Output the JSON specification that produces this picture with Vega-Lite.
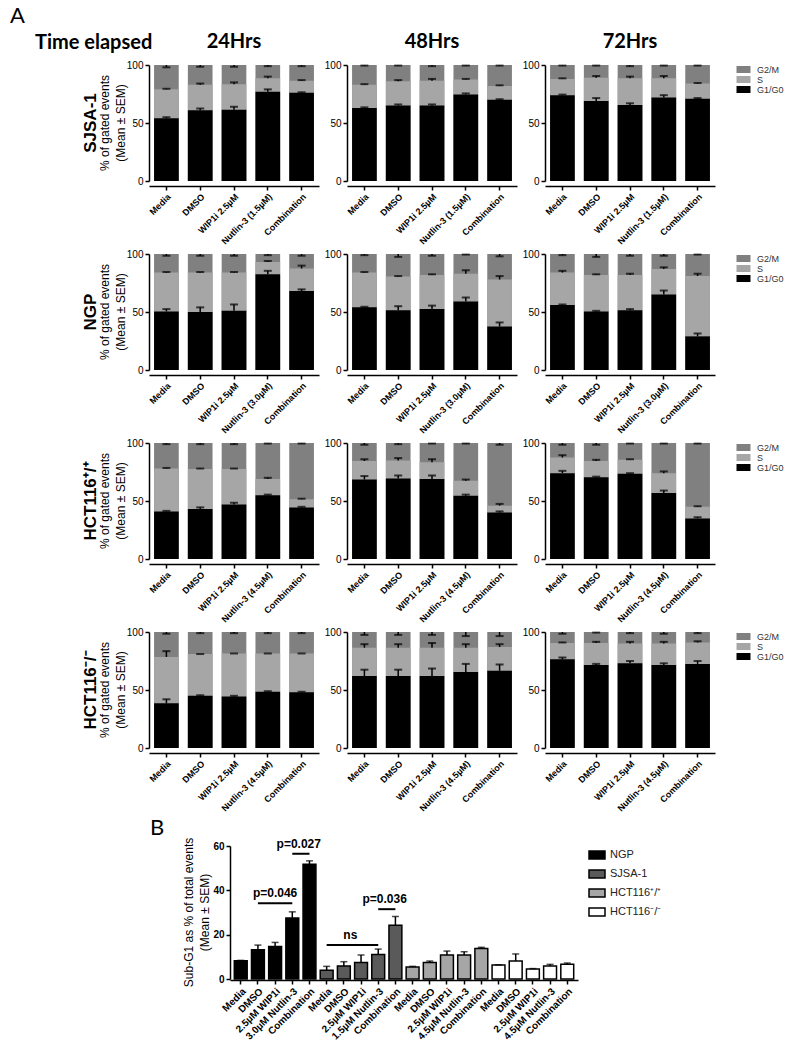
{
"$schema": "https://vega.github.io/schema/vega-lite/v6.json",
"padding": {"left": 10, "top": 5, "right": 5, "bottom": 5},
"title": {"text": "A", "anchor": "start", "fontSize": 22, "font": "Lato", "fontWeight": "normal", "color": "black", "dx": -25},
"datasets": {
"a": [
{"c":"SJSA-1","t":"24Hrs","x":"Media","p":"G2/M","m":100,"e":98},
{"c":"SJSA-1","t":"24Hrs","x":"DMSO","p":"G2/M","m":100,"e":98.5},
{"c":"SJSA-1","t":"24Hrs","x":"WIP1i 2.5µM","p":"G2/M","m":100,"e":98.5},
{"c":"SJSA-1","t":"24Hrs","x":"Nutlin-3 (1.5µM)","p":"G2/M","m":100,"e":99},
{"c":"SJSA-1","t":"24Hrs","x":"Combination","p":"G2/M","m":100,"e":99},
{"c":"SJSA-1","t":"24Hrs","x":"Media","p":"S","m":79,"e":79.5},
{"c":"SJSA-1","t":"24Hrs","x":"DMSO","p":"S","m":83,"e":84},
{"c":"SJSA-1","t":"24Hrs","x":"WIP1i 2.5µM","p":"S","m":83.5,"e":85},
{"c":"SJSA-1","t":"24Hrs","x":"Nutlin-3 (1.5µM)","p":"S","m":88.5,"e":90},
{"c":"SJSA-1","t":"24Hrs","x":"Combination","p":"S","m":86.5,"e":87},
{"c":"SJSA-1","t":"24Hrs","x":"Media","p":"G1/G0","m":54,"e":55},
{"c":"SJSA-1","t":"24Hrs","x":"DMSO","p":"G1/G0","m":61,"e":62.5},
{"c":"SJSA-1","t":"24Hrs","x":"WIP1i 2.5µM","p":"G1/G0","m":61.5,"e":64},
{"c":"SJSA-1","t":"24Hrs","x":"Nutlin-3 (1.5µM)","p":"G1/G0","m":77,"e":79},
{"c":"SJSA-1","t":"24Hrs","x":"Combination","p":"G1/G0","m":76,"e":76.5},
{"c":"SJSA-1","t":"48Hrs","x":"Media","p":"G2/M","m":100,"e":99.5},
{"c":"SJSA-1","t":"48Hrs","x":"DMSO","p":"G2/M","m":100,"e":99.5},
{"c":"SJSA-1","t":"48Hrs","x":"WIP1i 2.5µM","p":"G2/M","m":100,"e":99},
{"c":"SJSA-1","t":"48Hrs","x":"Nutlin-3 (1.5µM)","p":"G2/M","m":100,"e":99.5},
{"c":"SJSA-1","t":"48Hrs","x":"Combination","p":"G2/M","m":100,"e":99.5},
{"c":"SJSA-1","t":"48Hrs","x":"Media","p":"S","m":83,"e":83.5},
{"c":"SJSA-1","t":"48Hrs","x":"DMSO","p":"S","m":86,"e":87},
{"c":"SJSA-1","t":"48Hrs","x":"WIP1i 2.5µM","p":"S","m":86.5,"e":88},
{"c":"SJSA-1","t":"48Hrs","x":"Nutlin-3 (1.5µM)","p":"S","m":87.5,"e":88},
{"c":"SJSA-1","t":"48Hrs","x":"Combination","p":"S","m":82,"e":82.5},
{"c":"SJSA-1","t":"48Hrs","x":"Media","p":"G1/G0","m":63,"e":63.5},
{"c":"SJSA-1","t":"48Hrs","x":"DMSO","p":"G1/G0","m":65,"e":66},
{"c":"SJSA-1","t":"48Hrs","x":"WIP1i 2.5µM","p":"G1/G0","m":65,"e":66},
{"c":"SJSA-1","t":"48Hrs","x":"Nutlin-3 (1.5µM)","p":"G1/G0","m":74.5,"e":75.5},
{"c":"SJSA-1","t":"48Hrs","x":"Combination","p":"G1/G0","m":70,"e":70.5},
{"c":"SJSA-1","t":"72Hrs","x":"Media","p":"G2/M","m":100,"e":99.5},
{"c":"SJSA-1","t":"72Hrs","x":"DMSO","p":"G2/M","m":100,"e":99.5},
{"c":"SJSA-1","t":"72Hrs","x":"WIP1i 2.5µM","p":"G2/M","m":100,"e":99},
{"c":"SJSA-1","t":"72Hrs","x":"Nutlin-3 (1.5µM)","p":"G2/M","m":100,"e":99.5},
{"c":"SJSA-1","t":"72Hrs","x":"Combination","p":"G2/M","m":100,"e":99.5},
{"c":"SJSA-1","t":"72Hrs","x":"Media","p":"S","m":88,"e":88.5},
{"c":"SJSA-1","t":"72Hrs","x":"DMSO","p":"S","m":89,"e":90.5},
{"c":"SJSA-1","t":"72Hrs","x":"WIP1i 2.5µM","p":"S","m":88.5,"e":90},
{"c":"SJSA-1","t":"72Hrs","x":"Nutlin-3 (1.5µM)","p":"S","m":88.5,"e":90.5},
{"c":"SJSA-1","t":"72Hrs","x":"Combination","p":"S","m":84,"e":84.5},
{"c":"SJSA-1","t":"72Hrs","x":"Media","p":"G1/G0","m":74,"e":74.5},
{"c":"SJSA-1","t":"72Hrs","x":"DMSO","p":"G1/G0","m":69,"e":71.5},
{"c":"SJSA-1","t":"72Hrs","x":"WIP1i 2.5µM","p":"G1/G0","m":65.5,"e":67},
{"c":"SJSA-1","t":"72Hrs","x":"Nutlin-3 (1.5µM)","p":"G1/G0","m":72,"e":74},
{"c":"SJSA-1","t":"72Hrs","x":"Combination","p":"G1/G0","m":71,"e":71.5},
{"c":"NGP","t":"24Hrs","x":"Media","p":"G2/M","m":100,"e":98.5},
{"c":"NGP","t":"24Hrs","x":"DMSO","p":"G2/M","m":100,"e":98.5},
{"c":"NGP","t":"24Hrs","x":"WIP1i 2.5µM","p":"G2/M","m":100,"e":98.5},
{"c":"NGP","t":"24Hrs","x":"Nutlin-3 (3.0µM)","p":"G2/M","m":100,"e":99},
{"c":"NGP","t":"24Hrs","x":"Combination","p":"G2/M","m":100,"e":98.5},
{"c":"NGP","t":"24Hrs","x":"Media","p":"S","m":84,"e":84.5},
{"c":"NGP","t":"24Hrs","x":"DMSO","p":"S","m":84,"e":84.5},
{"c":"NGP","t":"24Hrs","x":"WIP1i 2.5µM","p":"S","m":84,"e":84.5},
{"c":"NGP","t":"24Hrs","x":"Nutlin-3 (3.0µM)","p":"S","m":93,"e":94},
{"c":"NGP","t":"24Hrs","x":"Combination","p":"S","m":87.5,"e":90},
{"c":"NGP","t":"24Hrs","x":"Media","p":"G1/G0","m":50.5,"e":52.5},
{"c":"NGP","t":"24Hrs","x":"DMSO","p":"G1/G0","m":50,"e":54},
{"c":"NGP","t":"24Hrs","x":"WIP1i 2.5µM","p":"G1/G0","m":51,"e":56.5},
{"c":"NGP","t":"24Hrs","x":"Nutlin-3 (3.0µM)","p":"G1/G0","m":82.5,"e":85.5},
{"c":"NGP","t":"24Hrs","x":"Combination","p":"G1/G0","m":68,"e":69.5},
{"c":"NGP","t":"48Hrs","x":"Media","p":"G2/M","m":100,"e":99},
{"c":"NGP","t":"48Hrs","x":"DMSO","p":"G2/M","m":100,"e":97.5},
{"c":"NGP","t":"48Hrs","x":"WIP1i 2.5µM","p":"G2/M","m":100,"e":98.5},
{"c":"NGP","t":"48Hrs","x":"Nutlin-3 (3.0µM)","p":"G2/M","m":100,"e":99.5},
{"c":"NGP","t":"48Hrs","x":"Combination","p":"G2/M","m":100,"e":98},
{"c":"NGP","t":"48Hrs","x":"Media","p":"S","m":84,"e":84.5},
{"c":"NGP","t":"48Hrs","x":"DMSO","p":"S","m":80.5,"e":81},
{"c":"NGP","t":"48Hrs","x":"WIP1i 2.5µM","p":"S","m":82,"e":82.5},
{"c":"NGP","t":"48Hrs","x":"Nutlin-3 (3.0µM)","p":"S","m":83,"e":86},
{"c":"NGP","t":"48Hrs","x":"Combination","p":"S","m":78,"e":81},
{"c":"NGP","t":"48Hrs","x":"Media","p":"G1/G0","m":54,"e":54.5},
{"c":"NGP","t":"48Hrs","x":"DMSO","p":"G1/G0","m":51.5,"e":55},
{"c":"NGP","t":"48Hrs","x":"WIP1i 2.5µM","p":"G1/G0","m":52.5,"e":55.5},
{"c":"NGP","t":"48Hrs","x":"Nutlin-3 (3.0µM)","p":"G1/G0","m":59,"e":62.5},
{"c":"NGP","t":"48Hrs","x":"Combination","p":"G1/G0","m":37.5,"e":41},
{"c":"NGP","t":"72Hrs","x":"Media","p":"G2/M","m":100,"e":99},
{"c":"NGP","t":"72Hrs","x":"DMSO","p":"G2/M","m":100,"e":97.5},
{"c":"NGP","t":"72Hrs","x":"WIP1i 2.5µM","p":"G2/M","m":100,"e":98.5},
{"c":"NGP","t":"72Hrs","x":"Nutlin-3 (3.0µM)","p":"G2/M","m":100,"e":98.5},
{"c":"NGP","t":"72Hrs","x":"Combination","p":"G2/M","m":100,"e":99.5},
{"c":"NGP","t":"72Hrs","x":"Media","p":"S","m":84,"e":85.5},
{"c":"NGP","t":"72Hrs","x":"DMSO","p":"S","m":82,"e":82.5},
{"c":"NGP","t":"72Hrs","x":"WIP1i 2.5µM","p":"S","m":82,"e":83},
{"c":"NGP","t":"72Hrs","x":"Nutlin-3 (3.0µM)","p":"S","m":87,"e":88.5},
{"c":"NGP","t":"72Hrs","x":"Combination","p":"S","m":81,"e":83},
{"c":"NGP","t":"72Hrs","x":"Media","p":"G1/G0","m":56,"e":56.5},
{"c":"NGP","t":"72Hrs","x":"DMSO","p":"G1/G0","m":50.5,"e":51},
{"c":"NGP","t":"72Hrs","x":"WIP1i 2.5µM","p":"G1/G0","m":51.5,"e":52.5},
{"c":"NGP","t":"72Hrs","x":"Nutlin-3 (3.0µM)","p":"G1/G0","m":65,"e":68.5},
{"c":"NGP","t":"72Hrs","x":"Combination","p":"G1/G0","m":29,"e":31.5},
{"c":"HCT+","t":"24Hrs","x":"Media","p":"G2/M","m":100,"e":99},
{"c":"HCT+","t":"24Hrs","x":"DMSO","p":"G2/M","m":100,"e":99},
{"c":"HCT+","t":"24Hrs","x":"WIP1i 2.5µM","p":"G2/M","m":100,"e":99},
{"c":"HCT+","t":"24Hrs","x":"Nutlin-3 (4.5µM)","p":"G2/M","m":100,"e":99.5},
{"c":"HCT+","t":"24Hrs","x":"Combination","p":"G2/M","m":100,"e":99.5},
{"c":"HCT+","t":"24Hrs","x":"Media","p":"S","m":78,"e":78.5},
{"c":"HCT+","t":"24Hrs","x":"DMSO","p":"S","m":77.5,"e":78},
{"c":"HCT+","t":"24Hrs","x":"WIP1i 2.5µM","p":"S","m":77.5,"e":78},
{"c":"HCT+","t":"24Hrs","x":"Nutlin-3 (4.5µM)","p":"S","m":69,"e":70},
{"c":"HCT+","t":"24Hrs","x":"Combination","p":"S","m":51.5,"e":52},
{"c":"HCT+","t":"24Hrs","x":"Media","p":"G1/G0","m":41,"e":41.5},
{"c":"HCT+","t":"24Hrs","x":"DMSO","p":"G1/G0","m":43,"e":44.5},
{"c":"HCT+","t":"24Hrs","x":"WIP1i 2.5µM","p":"G1/G0","m":47,"e":48.5},
{"c":"HCT+","t":"24Hrs","x":"Nutlin-3 (4.5µM)","p":"G1/G0","m":55,"e":55.5},
{"c":"HCT+","t":"24Hrs","x":"Combination","p":"G1/G0","m":44.5,"e":45},
{"c":"HCT+","t":"48Hrs","x":"Media","p":"G2/M","m":100,"e":98.5},
{"c":"HCT+","t":"48Hrs","x":"DMSO","p":"G2/M","m":100,"e":99},
{"c":"HCT+","t":"48Hrs","x":"WIP1i 2.5µM","p":"G2/M","m":100,"e":99.5},
{"c":"HCT+","t":"48Hrs","x":"Nutlin-3 (4.5µM)","p":"G2/M","m":100,"e":99.5},
{"c":"HCT+","t":"48Hrs","x":"Combination","p":"G2/M","m":100,"e":98.5},
{"c":"HCT+","t":"48Hrs","x":"Media","p":"S","m":84.5,"e":86},
{"c":"HCT+","t":"48Hrs","x":"DMSO","p":"S","m":85,"e":87},
{"c":"HCT+","t":"48Hrs","x":"WIP1i 2.5µM","p":"S","m":83.5,"e":86},
{"c":"HCT+","t":"48Hrs","x":"Nutlin-3 (4.5µM)","p":"S","m":67.5,"e":68.5},
{"c":"HCT+","t":"48Hrs","x":"Combination","p":"S","m":46,"e":47.5},
{"c":"HCT+","t":"48Hrs","x":"Media","p":"G1/G0","m":68.5,"e":71.5},
{"c":"HCT+","t":"48Hrs","x":"DMSO","p":"G1/G0","m":69.5,"e":72},
{"c":"HCT+","t":"48Hrs","x":"WIP1i 2.5µM","p":"G1/G0","m":69,"e":72},
{"c":"HCT+","t":"48Hrs","x":"Nutlin-3 (4.5µM)","p":"G1/G0","m":54.5,"e":55.5},
{"c":"HCT+","t":"48Hrs","x":"Combination","p":"G1/G0","m":40,"e":41},
{"c":"HCT+","t":"72Hrs","x":"Media","p":"G2/M","m":100,"e":98.5},
{"c":"HCT+","t":"72Hrs","x":"DMSO","p":"G2/M","m":100,"e":98.5},
{"c":"HCT+","t":"72Hrs","x":"WIP1i 2.5µM","p":"G2/M","m":100,"e":99.5},
{"c":"HCT+","t":"72Hrs","x":"Nutlin-3 (4.5µM)","p":"G2/M","m":100,"e":99.5},
{"c":"HCT+","t":"72Hrs","x":"Combination","p":"G2/M","m":100,"e":99.5},
{"c":"HCT+","t":"72Hrs","x":"Media","p":"S","m":87.5,"e":89.5},
{"c":"HCT+","t":"72Hrs","x":"DMSO","p":"S","m":84.5,"e":85.5},
{"c":"HCT+","t":"72Hrs","x":"WIP1i 2.5µM","p":"S","m":85.5,"e":86},
{"c":"HCT+","t":"72Hrs","x":"Nutlin-3 (4.5µM)","p":"S","m":74,"e":75.5},
{"c":"HCT+","t":"72Hrs","x":"Combination","p":"S","m":45,"e":45.5},
{"c":"HCT+","t":"72Hrs","x":"Media","p":"G1/G0","m":74,"e":76},
{"c":"HCT+","t":"72Hrs","x":"DMSO","p":"G1/G0","m":70.5,"e":71},
{"c":"HCT+","t":"72Hrs","x":"WIP1i 2.5µM","p":"G1/G0","m":73.5,"e":74},
{"c":"HCT+","t":"72Hrs","x":"Nutlin-3 (4.5µM)","p":"G1/G0","m":57,"e":59},
{"c":"HCT+","t":"72Hrs","x":"Combination","p":"G1/G0","m":35,"e":36},
{"c":"HCT-","t":"24Hrs","x":"Media","p":"G2/M","m":100,"e":98.5},
{"c":"HCT-","t":"24Hrs","x":"DMSO","p":"G2/M","m":100,"e":99},
{"c":"HCT-","t":"24Hrs","x":"WIP1i 2.5µM","p":"G2/M","m":100,"e":99},
{"c":"HCT-","t":"24Hrs","x":"Nutlin-3 (4.5µM)","p":"G2/M","m":100,"e":99},
{"c":"HCT-","t":"24Hrs","x":"Combination","p":"G2/M","m":100,"e":99},
{"c":"HCT-","t":"24Hrs","x":"Media","p":"S","m":78.5,"e":83.5},
{"c":"HCT-","t":"24Hrs","x":"DMSO","p":"S","m":81,"e":81},
{"c":"HCT-","t":"24Hrs","x":"WIP1i 2.5µM","p":"S","m":81.5,"e":81.5},
{"c":"HCT-","t":"24Hrs","x":"Nutlin-3 (4.5µM)","p":"S","m":81.5,"e":81.5},
{"c":"HCT-","t":"24Hrs","x":"Combination","p":"S","m":81.5,"e":81.5},
{"c":"HCT-","t":"24Hrs","x":"Media","p":"G1/G0","m":38.5,"e":42},
{"c":"HCT-","t":"24Hrs","x":"DMSO","p":"G1/G0","m":45,"e":45.5},
{"c":"HCT-","t":"24Hrs","x":"WIP1i 2.5µM","p":"G1/G0","m":44.5,"e":45},
{"c":"HCT-","t":"24Hrs","x":"Nutlin-3 (4.5µM)","p":"G1/G0","m":48.5,"e":49},
{"c":"HCT-","t":"24Hrs","x":"Combination","p":"G1/G0","m":48,"e":48.5},
{"c":"HCT-","t":"48Hrs","x":"Media","p":"G2/M","m":100,"e":97.5},
{"c":"HCT-","t":"48Hrs","x":"DMSO","p":"G2/M","m":100,"e":97.5},
{"c":"HCT-","t":"48Hrs","x":"WIP1i 2.5µM","p":"G2/M","m":100,"e":97.5},
{"c":"HCT-","t":"48Hrs","x":"Nutlin-3 (4.5µM)","p":"G2/M","m":100,"e":96.5},
{"c":"HCT-","t":"48Hrs","x":"Combination","p":"G2/M","m":100,"e":96.5},
{"c":"HCT-","t":"48Hrs","x":"Media","p":"S","m":86.5,"e":89.5},
{"c":"HCT-","t":"48Hrs","x":"DMSO","p":"S","m":86.5,"e":89.5},
{"c":"HCT-","t":"48Hrs","x":"WIP1i 2.5µM","p":"S","m":86.5,"e":90.5},
{"c":"HCT-","t":"48Hrs","x":"Nutlin-3 (4.5µM)","p":"S","m":86.5,"e":89.5},
{"c":"HCT-","t":"48Hrs","x":"Combination","p":"S","m":87,"e":89.5},
{"c":"HCT-","t":"48Hrs","x":"Media","p":"G1/G0","m":62,"e":67.5},
{"c":"HCT-","t":"48Hrs","x":"DMSO","p":"G1/G0","m":62,"e":67.5},
{"c":"HCT-","t":"48Hrs","x":"WIP1i 2.5µM","p":"G1/G0","m":62,"e":68.5},
{"c":"HCT-","t":"48Hrs","x":"Nutlin-3 (4.5µM)","p":"G1/G0","m":65.5,"e":72.5},
{"c":"HCT-","t":"48Hrs","x":"Combination","p":"G1/G0","m":66.5,"e":72},
{"c":"HCT-","t":"72Hrs","x":"Media","p":"G2/M","m":100,"e":98.5},
{"c":"HCT-","t":"72Hrs","x":"DMSO","p":"G2/M","m":100,"e":99.5},
{"c":"HCT-","t":"72Hrs","x":"WIP1i 2.5µM","p":"G2/M","m":100,"e":99},
{"c":"HCT-","t":"72Hrs","x":"Nutlin-3 (4.5µM)","p":"G2/M","m":100,"e":98.5},
{"c":"HCT-","t":"72Hrs","x":"Combination","p":"G2/M","m":100,"e":99},
{"c":"HCT-","t":"72Hrs","x":"Media","p":"S","m":90.5,"e":91},
{"c":"HCT-","t":"72Hrs","x":"DMSO","p":"S","m":90.5,"e":91.5},
{"c":"HCT-","t":"72Hrs","x":"WIP1i 2.5µM","p":"S","m":90,"e":91.5},
{"c":"HCT-","t":"72Hrs","x":"Nutlin-3 (4.5µM)","p":"S","m":90,"e":91.5},
{"c":"HCT-","t":"72Hrs","x":"Combination","p":"S","m":91,"e":92},
{"c":"HCT-","t":"72Hrs","x":"Media","p":"G1/G0","m":76.5,"e":78},
{"c":"HCT-","t":"72Hrs","x":"DMSO","p":"G1/G0","m":71.5,"e":72.5},
{"c":"HCT-","t":"72Hrs","x":"WIP1i 2.5µM","p":"G1/G0","m":73,"e":75},
{"c":"HCT-","t":"72Hrs","x":"Nutlin-3 (4.5µM)","p":"G1/G0","m":71.5,"e":73},
{"c":"HCT-","t":"72Hrs","x":"Combination","p":"G1/G0","m":72.5,"e":75}
],
"b": [
{"s":"Sub-G1","k":"NGP|Media","c":"NGP","m":8.2,"e":8.4},
{"s":"Sub-G1","k":"NGP|DMSO","c":"NGP","m":13.2,"e":15.3},
{"s":"Sub-G1","k":"NGP|2.5µM WIP1i","c":"NGP","m":14.7,"e":16.5},
{"s":"Sub-G1","k":"NGP|3.0µM Nutlin-3","c":"NGP","m":27.5,"e":30.3},
{"s":"Sub-G1","k":"NGP|Combination","c":"NGP","m":51.8,"e":53.3},
{"s":"Sub-G1","k":"SJSA-1|Media","c":"SJSA-1","m":3.9,"e":5.7},
{"s":"Sub-G1","k":"SJSA-1|DMSO","c":"SJSA-1","m":5.9,"e":7.8},
{"s":"Sub-G1","k":"SJSA-1|2.5µM WIP1i","c":"SJSA-1","m":7.5,"e":10.8},
{"s":"Sub-G1","k":"SJSA-1|1.5µM Nutlin-3","c":"SJSA-1","m":11.1,"e":13.5},
{"s":"Sub-G1","k":"SJSA-1|Combination","c":"SJSA-1","m":24.3,"e":28.2},
{"s":"Sub-G1","k":"HCT+|Media","c":"HCT116⁺/⁺","m":5.4,"e":5.7},
{"s":"Sub-G1","k":"HCT+|DMSO","c":"HCT116⁺/⁺","m":7.4,"e":8.1},
{"s":"Sub-G1","k":"HCT+|2.5µM WIP1i","c":"HCT116⁺/⁺","m":10.8,"e":12.6},
{"s":"Sub-G1","k":"HCT+|4.5µM Nutlin-3","c":"HCT116⁺/⁺","m":10.8,"e":12.3},
{"s":"Sub-G1","k":"HCT+|Combination","c":"HCT116⁺/⁺","m":13.8,"e":14.3},
{"s":"Sub-G1","k":"HCT-|Media","c":"HCT116⁻/⁻","m":6.3,"e":6.4},
{"s":"Sub-G1","k":"HCT-|DMSO","c":"HCT116⁻/⁻","m":8.1,"e":11.3},
{"s":"Sub-G1","k":"HCT-|2.5µM WIP1i","c":"HCT116⁻/⁻","m":4.5,"e":4.7},
{"s":"Sub-G1","k":"HCT-|4.5µM Nutlin-3","c":"HCT116⁻/⁻","m":5.9,"e":6.6},
{"s":"Sub-G1","k":"HCT-|Combination","c":"HCT116⁻/⁻","m":6.6,"e":7.2},
{"s":"Sub-G1","x1":"NGP|DMSO","x2":"NGP|3.0µM Nutlin-3","y":34.2},
{"s":"Sub-G1","x1":"NGP|3.0µM Nutlin-3","x2":"NGP|Combination","y":56.5},
{"s":"Sub-G1","x1":"SJSA-1|Media","x2":"SJSA-1|1.5µM Nutlin-3","y":15.3},
{"s":"Sub-G1","x1":"SJSA-1|1.5µM Nutlin-3","x2":"SJSA-1|Combination","y":31.5},
{"s":"Sub-G1","xt":"NGP|2.5µM WIP1i","y":34.2,"label":"p=0.046"},
{"s":"Sub-G1","xt":"NGP|3.0µM Nutlin-3","y":56.5,"label":"p=0.027"},
{"s":"Sub-G1","xt":"SJSA-1|DMSO","y":15.3,"label":"ns"},
{"s":"Sub-G1","xt":"SJSA-1|1.5µM Nutlin-3","y":31.5,"label":"p=0.036"}
]
},
"vconcat": [
{
"title": {"text": "Time elapsed", "anchor": "start", "fontSize": 20, "font": "Lato", "fontWeight": "bold", "color": "black", "dx": -47, "dy": 25},
"spacing": 3,
"resolve": {"scale": {"color": "independent", "x": "independent", "y": "independent"}},
"vconcat": [
{
"data": {"name": "a"},
"transform": [{"filter": "datum.c == 'SJSA-1'"}],
"spacing": 5,
"facet": {
"row": {"field": "c", "type": "nominal", "title": "SJSA-1", "header": {"labelExpr": "['% of gated events', '(Mean ± SEM)']", "labelAngle": -90, "labelFontSize": 12, "labelColor": "black", "labelPadding": -7, "labelLineHeight": 16, "titleFontSize": 17, "titleFontWeight": "bold", "titleColor": "black", "titlePadding": -12}},
"column": {"field": "t", "type": "nominal", "title": null, "header": {"labelFontSize": 20, "labelFont": "Lato", "labelFontWeight": "bold", "labelColor": "black", "labelPadding": 8}}
},
"spec": {"width": 170, "height": 116, "layer": [
{"mark": {"type": "bar"}, "encoding": {
"x": {"field": "x", "type": "nominal", "sort": null, "title": null, "scale": {"paddingInner": 0.27, "paddingOuter": 0.15}, "axis": {"labelAngle": -45, "labelFontWeight": "bold", "labelFontSize": 9}},
"y": {"field": "m", "type": "quantitative", "stack": null, "title": null, "scale": {"domain": [0, 100]}, "axis": {"values": [0, 50, 100]}},
"color": {"field": "p", "type": "nominal", "scale": {"domain": ["G2/M", "S", "G1/G0"], "range": ["#808080", "#a6a6a6", "#000000"]}, "legend": {"title": null, "symbolType": "M-1.75,-0.875H1.75V0.875H-1.75Z", "symbolSize": 64, "symbolStrokeWidth": 0, "labelFontSize": 9, "labelColor": "#333", "rowPadding": -2, "offset": 24, "labelOffset": 9}}}},
{"mark": {"type": "rule", "color": "black", "strokeWidth": 1.5}, "encoding": {"x": {"field": "x", "type": "nominal", "sort": null}, "y": {"field": "m", "type": "quantitative"}, "y2": {"field": "e"}}},
{"mark": {"type": "tick", "color": "black", "thickness": 2, "size": 8}, "encoding": {"x": {"field": "x", "type": "nominal", "sort": null}, "y": {"field": "e", "type": "quantitative"}}}
]},
"resolve": {"axis": {"y": "independent"}}
},
{
"data": {"name": "a"},
"transform": [{"filter": "datum.c == 'NGP'"}],
"spacing": 5,
"facet": {
"row": {"field": "c", "type": "nominal", "title": "NGP", "header": {"labelExpr": "['% of gated events', '(Mean ± SEM)']", "labelAngle": -90, "labelFontSize": 12, "labelColor": "black", "labelPadding": -7, "labelLineHeight": 16, "titleFontSize": 17, "titleFontWeight": "bold", "titleColor": "black", "titlePadding": -12}},
"column": {"field": "t", "type": "nominal", "header": null}
},
"spec": {"width": 170, "height": 116, "layer": [
{"mark": {"type": "bar"}, "encoding": {
"x": {"field": "x", "type": "nominal", "sort": null, "title": null, "scale": {"paddingInner": 0.27, "paddingOuter": 0.15}, "axis": {"labelAngle": -45, "labelFontWeight": "bold", "labelFontSize": 9}},
"y": {"field": "m", "type": "quantitative", "stack": null, "title": null, "scale": {"domain": [0, 100]}, "axis": {"values": [0, 50, 100]}},
"color": {"field": "p", "type": "nominal", "scale": {"domain": ["G2/M", "S", "G1/G0"], "range": ["#808080", "#a6a6a6", "#000000"]}, "legend": {"title": null, "symbolType": "M-1.75,-0.875H1.75V0.875H-1.75Z", "symbolSize": 64, "symbolStrokeWidth": 0, "labelFontSize": 9, "labelColor": "#333", "rowPadding": -2, "offset": 24, "labelOffset": 9}}}},
{"mark": {"type": "rule", "color": "black", "strokeWidth": 1.5}, "encoding": {"x": {"field": "x", "type": "nominal", "sort": null}, "y": {"field": "m", "type": "quantitative"}, "y2": {"field": "e"}}},
{"mark": {"type": "tick", "color": "black", "thickness": 2, "size": 8}, "encoding": {"x": {"field": "x", "type": "nominal", "sort": null}, "y": {"field": "e", "type": "quantitative"}}}
]},
"resolve": {"axis": {"y": "independent"}}
},
{
"data": {"name": "a"},
"transform": [{"filter": "datum.c == 'HCT+'"}],
"spacing": 5,
"facet": {
"row": {"field": "c", "type": "nominal", "title": "HCT116⁺/⁺", "header": {"labelExpr": "['% of gated events', '(Mean ± SEM)']", "labelAngle": -90, "labelFontSize": 12, "labelColor": "black", "labelPadding": -7, "labelLineHeight": 16, "titleFontSize": 17, "titleFontWeight": "bold", "titleColor": "black", "titlePadding": -12}},
"column": {"field": "t", "type": "nominal", "header": null}
},
"spec": {"width": 170, "height": 116, "layer": [
{"mark": {"type": "bar"}, "encoding": {
"x": {"field": "x", "type": "nominal", "sort": null, "title": null, "scale": {"paddingInner": 0.27, "paddingOuter": 0.15}, "axis": {"labelAngle": -45, "labelFontWeight": "bold", "labelFontSize": 9}},
"y": {"field": "m", "type": "quantitative", "stack": null, "title": null, "scale": {"domain": [0, 100]}, "axis": {"values": [0, 50, 100]}},
"color": {"field": "p", "type": "nominal", "scale": {"domain": ["G2/M", "S", "G1/G0"], "range": ["#808080", "#a6a6a6", "#000000"]}, "legend": {"title": null, "symbolType": "M-1.75,-0.875H1.75V0.875H-1.75Z", "symbolSize": 64, "symbolStrokeWidth": 0, "labelFontSize": 9, "labelColor": "#333", "rowPadding": -2, "offset": 24, "labelOffset": 9}}}},
{"mark": {"type": "rule", "color": "black", "strokeWidth": 1.5}, "encoding": {"x": {"field": "x", "type": "nominal", "sort": null}, "y": {"field": "m", "type": "quantitative"}, "y2": {"field": "e"}}},
{"mark": {"type": "tick", "color": "black", "thickness": 2, "size": 8}, "encoding": {"x": {"field": "x", "type": "nominal", "sort": null}, "y": {"field": "e", "type": "quantitative"}}}
]},
"resolve": {"axis": {"y": "independent"}}
},
{
"data": {"name": "a"},
"transform": [{"filter": "datum.c == 'HCT-'"}],
"spacing": 5,
"facet": {
"row": {"field": "c", "type": "nominal", "title": "HCT116⁻/⁻", "header": {"labelExpr": "['% of gated events', '(Mean ± SEM)']", "labelAngle": -90, "labelFontSize": 12, "labelColor": "black", "labelPadding": -7, "labelLineHeight": 16, "titleFontSize": 17, "titleFontWeight": "bold", "titleColor": "black", "titlePadding": -12}},
"column": {"field": "t", "type": "nominal", "header": null}
},
"spec": {"width": 170, "height": 116, "layer": [
{"mark": {"type": "bar"}, "encoding": {
"x": {"field": "x", "type": "nominal", "sort": null, "title": null, "scale": {"paddingInner": 0.27, "paddingOuter": 0.15}, "axis": {"labelAngle": -45, "labelFontWeight": "bold", "labelFontSize": 9}},
"y": {"field": "m", "type": "quantitative", "stack": null, "title": null, "scale": {"domain": [0, 100]}, "axis": {"values": [0, 50, 100]}},
"color": {"field": "p", "type": "nominal", "scale": {"domain": ["G2/M", "S", "G1/G0"], "range": ["#808080", "#a6a6a6", "#000000"]}, "legend": {"title": null, "symbolType": "M-1.75,-0.875H1.75V0.875H-1.75Z", "symbolSize": 64, "symbolStrokeWidth": 0, "labelFontSize": 9, "labelColor": "#333", "rowPadding": -2, "offset": 24, "labelOffset": 9}}}},
{"mark": {"type": "rule", "color": "black", "strokeWidth": 1.5}, "encoding": {"x": {"field": "x", "type": "nominal", "sort": null}, "y": {"field": "m", "type": "quantitative"}, "y2": {"field": "e"}}},
{"mark": {"type": "tick", "color": "black", "thickness": 2, "size": 8}, "encoding": {"x": {"field": "x", "type": "nominal", "sort": null}, "y": {"field": "e", "type": "quantitative"}}}
]},
"resolve": {"axis": {"y": "independent"}}
},
{
"spacing": 0,
"hconcat": [
{"width": 1, "height": 1, "data": {"values": []}, "mark": "point"},
{
"data": {"name": "b"},
"title": {"text": "B", "anchor": "start", "fontSize": 22, "font": "Lato", "fontWeight": "normal", "color": "black", "dx": 0, "offset": -2},
"facet": {
"row": {"field": "s", "type": "nominal", "title": " ", "header": {"labelExpr": "['Sub-G1 as % of total events', '(Mean ± SEM)']", "labelAngle": -90, "labelFontSize": 12, "labelColor": "black", "labelPadding": -4, "labelLineHeight": 16, "titleFontSize": 17, "titleFontWeight": "bold", "titleColor": "black", "titlePadding": 4}}
},
"spec": {"width": 348, "height": 133, "layer": [
{"transform": [{"filter": "isValid(datum.m)"}], "mark": {"type": "bar", "stroke": "black", "strokeWidth": 1.5}, "encoding": {
"x": {"field": "k", "type": "nominal", "sort": null, "title": null, "scale": {"paddingInner": 0.25, "paddingOuter": 0.25}, "axis": {"labelExpr": "split(datum.value, '|')[1]", "labelAngle": -45, "labelFontWeight": "bold", "labelFontSize": 10}},
"y": {"field": "m", "type": "quantitative", "title": null, "scale": {"domain": [0, 60]}, "axis": {"values": [0, 20, 40, 60], "labelFontWeight": "bold"}},
"color": {"field": "c", "type": "nominal", "scale": {"domain": ["NGP", "SJSA-1", "HCT116⁺/⁺", "HCT116⁻/⁻"], "range": ["#000000", "#5a5a5a", "#a6a6a6", "#ffffff"]}, "legend": {"title": null, "symbolType": "M-1,-0.5H1V0.5H-1Z", "symbolSize": 256, "symbolStrokeColor": "black", "symbolStrokeWidth": 1.5, "labelFontSize": 11, "labelColor": "#222", "rowPadding": 3, "offset": 10}}}},
{"transform": [{"filter": "isValid(datum.m)"}], "mark": {"type": "rule", "color": "black", "strokeWidth": 1.5}, "encoding": {"x": {"field": "k", "type": "nominal", "sort": null}, "y": {"field": "m", "type": "quantitative"}, "y2": {"field": "e"}}},
{"transform": [{"filter": "isValid(datum.m)"}], "mark": {"type": "tick", "color": "black", "thickness": 1.5, "size": 7}, "encoding": {"x": {"field": "k", "type": "nominal", "sort": null}, "y": {"field": "e", "type": "quantitative"}}},
{"transform": [{"filter": "isValid(datum.x1)"}], "mark": {"type": "rule", "color": "black", "strokeWidth": 2}, "encoding": {"x": {"field": "x1", "type": "nominal", "sort": null}, "x2": {"field": "x2"}, "y": {"field": "y", "type": "quantitative"}}},
{"transform": [{"filter": "datum.label == 'p=0.046'"}], "mark": {"type": "text", "fontWeight": "bold", "fontSize": 12, "baseline": "bottom", "dy": -3, "color": "black"}, "encoding": {"x": {"field": "xt", "type": "nominal", "sort": null}, "y": {"field": "y", "type": "quantitative"}, "text": {"field": "label"}}},
{"transform": [{"filter": "isValid(datum.label) && datum.label != 'p=0.046'"}], "mark": {"type": "text", "fontWeight": "bold", "fontSize": 12, "baseline": "bottom", "dy": -3, "color": "black"}, "encoding": {"x": {"field": "xt", "type": "nominal", "sort": null, "bandPosition": 1}, "y": {"field": "y", "type": "quantitative"}, "text": {"field": "label"}}}
]}
}
]
}
]
}
],
"config": {
"font": "Liberation Sans",
"view": {"stroke": null},
"axis": {"grid": false, "domainColor": "#000", "domainWidth": 1.5, "tickColor": "#000", "tickWidth": 1.5, "tickSize": 4, "labelColor": "#000", "titleColor": "#000", "labelFontSize": 10, "titleFontWeight": "normal"}
}
}
